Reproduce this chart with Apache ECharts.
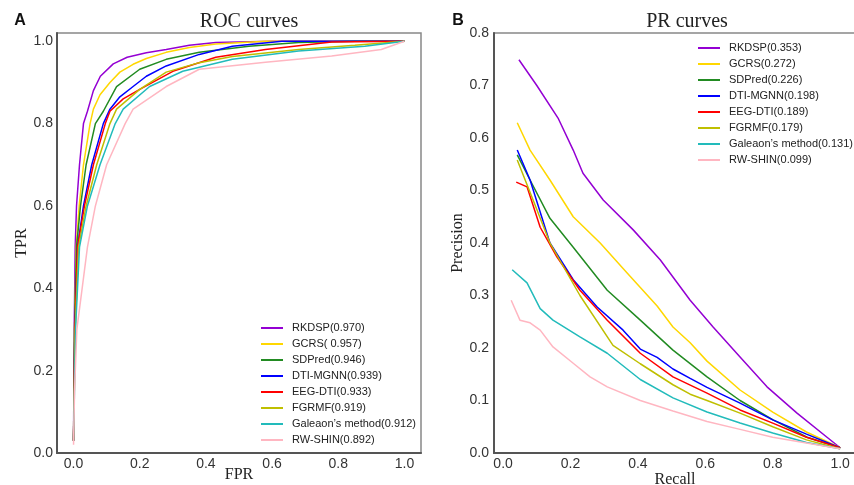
<!DOCTYPE html>
<html>
<head>
<meta charset="utf-8">
<script src="https://cdn.jsdelivr.net/npm/echarts@6/dist/echarts.min.js"></script>
<style>
html,body{margin:0;padding:0;background:#fff;}
#main{width:854px;height:485px;}
</style>
</head>
<body>
<div id="main"></div>
<script>
// ROC 曲线数据 [FPR, TPR]
var rocRKDSP=[[0,0.03],[0.002,0.3],[0.005,0.5],[0.009,0.6],[0.018,0.7],[0.03,0.8],[0.042,0.83],[0.06,0.88],[0.081,0.915],[0.12,0.945],[0.162,0.961],[0.22,0.972],[0.28,0.98],[0.35,0.99],[0.43,0.997],[0.6,1.0],[1,1]];
var rocGCRS=[[0,0.03],[0.003,0.3],[0.008,0.5],[0.017,0.6],[0.03,0.7],[0.05,0.8],[0.06,0.835],[0.08,0.87],[0.11,0.9],[0.14,0.925],[0.18,0.944],[0.22,0.958],[0.28,0.973],[0.35,0.985],[0.43,0.993],[0.58,1.0],[1,1]];
var rocSDPred=[[0,0.03],[0.003,0.3],[0.009,0.5],[0.021,0.6],[0.038,0.7],[0.066,0.8],[0.09,0.83],[0.13,0.89],[0.2,0.932],[0.28,0.956],[0.38,0.973],[0.53,0.988],[0.68,0.997],[0.85,1.0],[1,1]];
var rocDTIMGNN=[[0,0.03],[0.004,0.3],[0.012,0.5],[0.03,0.6],[0.055,0.7],[0.09,0.8],[0.11,0.835],[0.14,0.865],[0.18,0.89],[0.22,0.915],[0.28,0.94],[0.38,0.968],[0.48,0.988],[0.63,1.0],[1,1]];
var rocEEGDTI=[[0,0.03],[0.004,0.3],[0.012,0.5],[0.033,0.6],[0.06,0.7],[0.096,0.8],[0.11,0.83],[0.15,0.86],[0.2,0.883],[0.3,0.927],[0.43,0.961],[0.58,0.98],[0.78,0.998],[1,1]];
var rocFGRMF=[[0,0.03],[0.005,0.3],[0.015,0.5],[0.038,0.6],[0.07,0.7],[0.11,0.8],[0.13,0.835],[0.2,0.883],[0.28,0.925],[0.38,0.948],[0.48,0.963],[0.68,0.98],[0.85,0.99],[1,1]];
var rocGaleaon=[[0,0.03],[0.006,0.3],[0.018,0.5],[0.042,0.6],[0.08,0.7],[0.126,0.8],[0.15,0.835],[0.23,0.89],[0.33,0.927],[0.48,0.956],[0.68,0.976],[0.88,0.988],[1,1]];
var rocRWSHIN=[[0,0.02],[0.003,0.15],[0.01,0.3],[0.026,0.4],[0.042,0.5],[0.066,0.6],[0.1,0.7],[0.156,0.8],[0.18,0.835],[0.28,0.89],[0.38,0.932],[0.58,0.949],[0.78,0.964],[0.93,0.98],[1,1]];

// PR 曲线数据 [Recall, Precision]
var prRKDSP=[[0.047,0.749],[0.1,0.7],[0.163,0.638],[0.208,0.577],[0.237,0.533],[0.297,0.482],[0.386,0.425],[0.466,0.368],[0.555,0.291],[0.623,0.24],[0.703,0.183],[0.783,0.126],[0.872,0.076],[0.961,0.03],[1.0,0.01]];
var prGCRS=[[0.042,0.629],[0.08,0.577],[0.139,0.52],[0.208,0.45],[0.288,0.4],[0.368,0.343],[0.457,0.28],[0.504,0.24],[0.555,0.21],[0.605,0.175],[0.703,0.12],[0.8,0.078],[0.9,0.04],[1.0,0.01]];
var prSDPred=[[0.042,0.568],[0.08,0.52],[0.139,0.447],[0.208,0.392],[0.309,0.31],[0.407,0.253],[0.504,0.196],[0.605,0.145],[0.703,0.1],[0.801,0.063],[0.902,0.03],[1.0,0.01]];
var prDTIMGNN=[[0.042,0.577],[0.08,0.52],[0.139,0.4],[0.208,0.33],[0.279,0.278],[0.356,0.234],[0.407,0.198],[0.457,0.182],[0.504,0.16],[0.555,0.142],[0.605,0.125],[0.703,0.095],[0.8,0.063],[0.9,0.036],[1.0,0.01]];
var prEEGDTI=[[0.039,0.516],[0.071,0.507],[0.11,0.43],[0.16,0.373],[0.228,0.31],[0.309,0.253],[0.407,0.19],[0.504,0.145],[0.605,0.114],[0.703,0.082],[0.8,0.057],[0.9,0.03],[1.0,0.01]];
var prFGRMF=[[0.042,0.558],[0.089,0.482],[0.139,0.4],[0.228,0.3],[0.326,0.205],[0.407,0.17],[0.504,0.13],[0.555,0.112],[0.605,0.1],[0.703,0.076],[0.8,0.05],[0.9,0.025],[1.0,0.008]];
var prGaleaon=[[0.027,0.349],[0.071,0.324],[0.11,0.275],[0.148,0.253],[0.228,0.221],[0.309,0.19],[0.407,0.14],[0.504,0.105],[0.605,0.078],[0.703,0.057],[0.8,0.038],[0.9,0.02],[1.0,0.008]];
var prRWSHIN=[[0.024,0.291],[0.05,0.253],[0.08,0.248],[0.11,0.234],[0.148,0.202],[0.208,0.171],[0.258,0.145],[0.309,0.126],[0.407,0.1],[0.504,0.08],[0.605,0.06],[0.703,0.045],[0.8,0.03],[0.9,0.019],[1.0,0.008]];

var rocNames=["RKDSP(0.970)","GCRS( 0.957)","SDPred(0.946)","DTI-MGNN(0.939)","EEG-DTI(0.933)","FGRMF(0.919)","Galeaon\u2019s method(0.912)","RW-SHIN(0.892)"];
var prNames=["RKDSP(0.353)","GCRS(0.272)","SDPred(0.226)","DTI-MGNN(0.198)","EEG-DTI(0.189)","FGRMF(0.179)","Galeaon\u2019s method(0.131)","RW-SHIN(0.099)"];
var colors=["#9400D3","#FFD700","#228B22","#0000FF","#FF0000","#BFBF00","#22BBBB","#FFB6C1"];
var rocTicks=[0,0.2,0.4,0.6,0.8,1.0];
var prXTicks=[0,0.2,0.4,0.6,0.8,1.0];

var rocData=[rocRKDSP,rocGCRS,rocSDPred,rocDTIMGNN,rocEEGDTI,rocFGRMF,rocGaleaon,rocRWSHIN];
var prData=[prRKDSP,prGCRS,prSDPred,prDTIMGNN,prEEGDTI,prFGRMF,prGaleaon,prRWSHIN];

var sans="Liberation Sans";
var serif="Liberation Serif";

function fmt(v){
	return v.toFixed(1);
}

var series=[];
for(var i=0;i<rocData.length;i++){
	series.push({
		name:rocNames[i],type:"line",xAxisIndex:0,yAxisIndex:0,
		data:rocData[i],showSymbol:false,symbol:"none",
		lineStyle:{color:colors[i],width:1.5},itemStyle:{color:colors[i]}
	});
}
for(var j=0;j<prData.length;j++){
	series.push({
		name:prNames[j],type:"line",xAxisIndex:1,yAxisIndex:1,
		data:prData[j],showSymbol:false,symbol:"none",
		lineStyle:{color:colors[j],width:1.5},itemStyle:{color:colors[j]}
	});
}

function xAxisCfg(idx,min,max,name,gap){
	return {
		type:"value",gridIndex:idx,min:min,max:max,
		name:name,nameLocation:"middle",nameGap:gap,nameMoveOverlap:false,
		nameTextStyle:{fontFamily:serif,fontSize:16,color:"#222"},
		axisLine:{show:true,onZero:false,lineStyle:{color:"#555",width:2}},
		axisTick:{show:false},
		splitLine:{show:false},
		axisLabel:{customValues:prXTicks,formatter:fmt,fontFamily:sans,fontSize:14,color:"#333",margin:4}
	};
}

var option={
	animation:false,
	backgroundColor:"#fff",
	grid:[
		{left:57,top:33,width:364,height:420,show:true,borderColor:"#888",borderWidth:1.5,containLabel:false,outerBoundsMode:"none"},
		{left:494,top:33,width:362,height:420,show:true,borderColor:"#888",borderWidth:1.5,containLabel:false,outerBoundsMode:"none"}
	],
	xAxis:[
		xAxisCfg(0,-0.05,1.05,"FPR",14),
		xAxisCfg(1,-0.027,1.047,"Recall",19)
	],
	yAxis:[
		{
			type:"value",gridIndex:0,min:0,max:1.02,
			name:"TPR",nameLocation:"middle",nameGap:27,nameMoveOverlap:false,
			nameTextStyle:{fontFamily:serif,fontSize:16,color:"#222"},
			axisLine:{show:true,onZero:false,lineStyle:{color:"#555",width:2}},
			axisTick:{show:false},
			splitLine:{show:false},
			axisLabel:{customValues:rocTicks,formatter:fmt,fontFamily:sans,fontSize:14,color:"#333",margin:4}
		},
		{
			type:"value",gridIndex:1,min:0,max:0.8,interval:0.1,
			name:"Precision",nameLocation:"middle",nameGap:28,nameMoveOverlap:false,
			nameTextStyle:{fontFamily:serif,fontSize:16,color:"#222"},
			axisLine:{show:true,onZero:false,lineStyle:{color:"#555",width:2}},
			axisTick:{show:false},
			splitLine:{show:false},
			axisLabel:{formatter:fmt,fontFamily:sans,fontSize:14,color:"#333",margin:5}
		}
	],
	legend:[
		{
			data:rocNames,left:256,top:316,orient:"vertical",
			icon:"rect",itemWidth:22,itemHeight:2,itemGap:2,selectedMode:false,
			textStyle:{fontFamily:sans,fontSize:11,color:"#222",lineHeight:14,padding:[0,0,0,4]}
		},
		{
			data:prNames,left:693,top:36,orient:"vertical",
			icon:"rect",itemWidth:22,itemHeight:2,itemGap:2,selectedMode:false,
			textStyle:{fontFamily:sans,fontSize:11,color:"#222",lineHeight:14,padding:[0,0,0,4]}
		}
	],
	graphic:[
		{type:"text",x:249,y:22,style:{text:"ROC curves",font:"20px '"+serif+"'",fill:"#222",textAlign:"center",textVerticalAlign:"middle"}},
		{type:"text",x:687,y:22,style:{text:"PR curves",font:"20px '"+serif+"'",fill:"#222",textAlign:"center",textVerticalAlign:"middle"}},
		{type:"text",x:20,y:21,style:{text:"A",font:"bold 16px '"+sans+"'",fill:"#111",textAlign:"center",textVerticalAlign:"middle"}},
		{type:"text",x:458,y:21,style:{text:"B",font:"bold 16px '"+sans+"'",fill:"#111",textAlign:"center",textVerticalAlign:"middle"}}
	],
	series:series
};

var myChart=echarts.init(document.getElementById("main"));
myChart.setOption(option);
</script>
</body>
</html>
